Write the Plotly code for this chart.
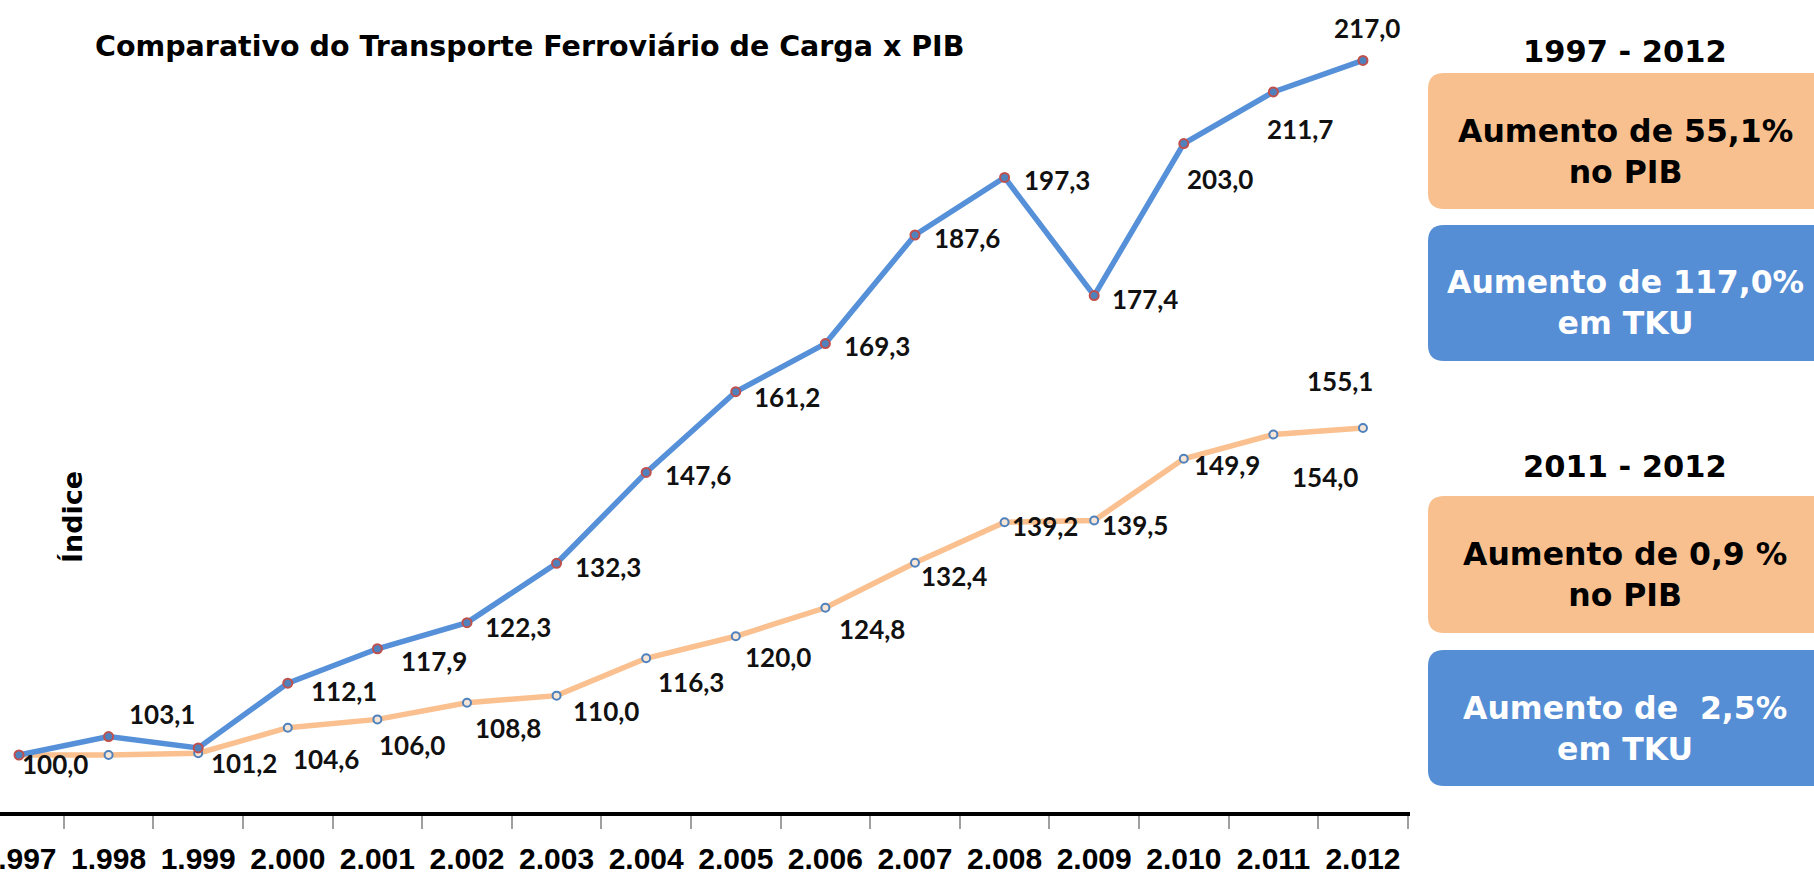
import plotly.graph_objects as go

# ---------------- data ----------------
years = ["1.997", "1.998", "1.999", "2.000", "2.001", "2.002", "2.003", "2.004",
         "2.005", "2.006", "2.007", "2.008", "2.009", "2.010", "2.011", "2.012"]
tku = [100.0, 103.1, 101.2, 112.1, 117.9, 122.3, 132.3, 147.6,
       161.2, 169.3, 187.6, 197.3, 177.4, 203.0, 211.7, 217.0]
pib = [100.0, 100.0, 100.3, 104.6, 106.0, 108.8, 110.0, 116.3,
       120.0, 124.8, 132.4, 139.2, 139.5, 149.9, 154.0, 155.1]
pib_show_label = [False, False, False, True, True, True, True, True,
                  True, True, True, True, True, True, True, True]

title_text = "Comparativo do Transporte Ferroviário de Carga x PIB"
y_title = "Índice"
panel_headers = ["1997 - 2012", "2011 - 2012"]
panel_boxes = ["Aumento de 55,1%<br>no PIB", "Aumento de 117,0%<br>em TKU",
               "Aumento de 0,9 %<br>no PIB", "Aumento de  2,5%<br>em TKU"]

# ---------------- styles / label offsets (pixels) ----------------
tku_off = [(36, 9), (53, -23), (46, 15), (56, 8), (57, 12), (51, 4), (51, 4), (52, 3),
           (51, 5), (52, 2), (52, 3), (52, 3), (51, 3), (36, 35), (27, 37), (4, -32)]
pib_off = [(0, 0), (0, 0), (0, 0), (38, 31), (35, 26), (41, 25), (49, 15), (45, 24),
           (42, 21), (47, 21), (39, 13), (40, 4), (41, 4), (43, 6), (52, 43), (-23, -47)]

BLUE_LINE = "#5590D8"
ORANGE_LINE = "#FAC08F"
BOX_ORANGE = "#F9C08F"
BOX_BLUE = "#558ED5"

W, H = 1814, 876
ML, MR, MT, MB = 0, 404, 10, 64
PW = W - ML - MR
PH = H - MT - MB

def fmt(v):
    return f"{v:.1f}".replace(".", ",")

x = list(range(len(years)))

fig = go.Figure()
fig.add_trace(go.Scatter(
    x=x, y=pib, mode="lines+markers",
    line=dict(color=ORANGE_LINE, width=5.5),
    marker=dict(size=8, color="#F5E6D8", line=dict(color="#4F81BD", width=2)),
    showlegend=False, hoverinfo="skip"))
fig.add_trace(go.Scatter(
    x=x, y=tku, mode="lines+markers",
    line=dict(color=BLUE_LINE, width=5.5),
    marker=dict(size=9, color="#4F81BD", line=dict(color="#C0504D", width=2)),
    showlegend=False, hoverinfo="skip"))

ann = []
label_font = dict(family="Lato, Carlito, sans-serif", size=26, color="#111111", weight="bold")
for i, v in enumerate(tku):
    dx, dy = tku_off[i]
    ann.append(dict(x=i, y=v, xref="x", yref="y", text=fmt(v), showarrow=False,
                    xanchor="center", yanchor="middle",
                    xshift=dx, yshift=-dy, font=label_font))
for i, v in enumerate(pib):
    if not pib_show_label[i]:
        continue
    dx, dy = pib_off[i]
    ann.append(dict(x=i, y=v, xref="x", yref="y", text=fmt(v), showarrow=False,
                    xanchor="center", yanchor="middle",
                    xshift=dx, yshift=-dy, font=label_font))

def px(xp):
    return (xp - ML) / PW

def py(yp):
    return (H - MB - yp) / PH

# y axis title
ann.append(dict(x=px(72), y=py(517), xref="paper", yref="paper", text=y_title,
                textangle=-90, showarrow=False, xanchor="center", yanchor="middle",
                font=dict(family="DejaVu Sans", size=27, color="black", weight="bold")))

# right panel
right_font = dict(family="DejaVu Sans", size=31.5, weight="bold")
header_font = dict(family="DejaVu Sans", size=30.5, weight="bold", color="black")
header_y = [52, 466]
for t, yy in zip(panel_headers, header_y):
    ann.append(dict(x=px(1625), y=py(yy), xref="paper", yref="paper", text=t,
                    showarrow=False, xanchor="center", yanchor="middle",
                    font=header_font))

box_rows = [(73, 209, BOX_ORANGE, "black"), (225, 361, BOX_BLUE, "white"),
            (496, 633, BOX_ORANGE, "black"), (650, 786, BOX_BLUE, "white")]
shapes = []
r = 16
for (top, bot, col, tcol), t in zip(box_rows, panel_boxes):
    x0, x1 = 1428, 1840
    rx, ry = r / PW, r / PH
    X0, X1 = px(x0), px(x1)
    Yt, Yb = py(top), py(bot)
    path = (f"M {X0+rx},{Yt} L {X1-rx},{Yt} Q {X1},{Yt} {X1},{Yt-ry} "
            f"L {X1},{Yb+ry} Q {X1},{Yb} {X1-rx},{Yb} L {X0+rx},{Yb} "
            f"Q {X0},{Yb} {X0},{Yb+ry} L {X0},{Yt-ry} Q {X0},{Yt} {X0+rx},{Yt} Z")
    shapes.append(dict(type="path", path=path, xref="paper", yref="paper",
                       fillcolor=col, line=dict(width=0), layer="below"))
    ann.append(dict(x=px(1625), y=py((top + bot) / 2 + 10), xref="paper", yref="paper",
                    text=t, showarrow=False, xanchor="center", yanchor="middle",
                    font=dict(right_font, color=tcol)))

fig.update_layout(
    width=W, height=H,
    margin=dict(l=ML, r=MR, t=MT, b=MB, autoexpand=False),
    paper_bgcolor="white", plot_bgcolor="white",
    title=dict(text=title_text, x=95 / W, xanchor="left", xref="container",
               y=1 - 46 / H, yanchor="middle", yref="container",
               font=dict(family="DejaVu Sans", size=28.5, color="black", weight="bold")),
    annotations=ann, shapes=shapes,
    xaxis=dict(range=[-0.212, 15.525], tickmode="array", tickvals=x, ticktext=years,
               showgrid=False, zeroline=False, showline=True, linecolor="black",
               linewidth=4, ticks="outside", ticklen=17, tickcolor="rgba(0,0,0,0)",
               ticklabeloverflow="allow",
               tickfont=dict(family="Liberation Sans, Arial, sans-serif",
                             size=30, color="black", weight="bold"),
               minor=dict(tickmode="linear", tick0=0.5, dtick=1, ticks="outside",
                          ticklen=13, tickwidth=1.5, tickcolor="#A0A0A0", showgrid=False),
               automargin=False, fixedrange=True),
    yaxis=dict(range=[90.4, 225.5], visible=False, showgrid=False, zeroline=False,
               automargin=False, fixedrange=True),
)

fig.write_html("out.html", config={"displayModeBar": False},
               post_script="document.body.style.margin='0px';")
